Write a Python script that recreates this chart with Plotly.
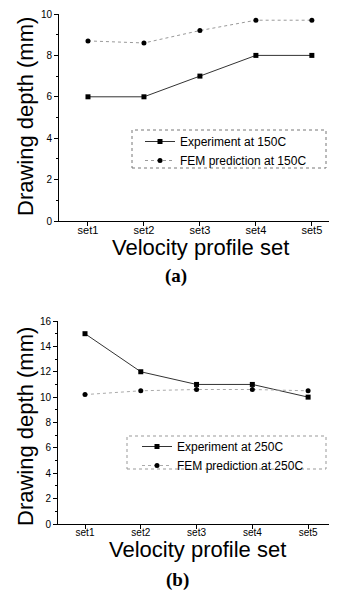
import plotly.graph_objects as go

categories = ["set1", "set2", "set3", "set4", "set5"]
exp_150 = [6, 6, 7, 8, 8]
fem_150 = [8.7, 8.6, 9.2, 9.7, 9.7]
exp_250 = [15, 12, 11, 11, 10]
fem_250 = [10.2, 10.5, 10.6, 10.6, 10.5]

# page body adds an 8px margin; figure is sized to the remaining viewport
OFF = 8
W, H = 337 - OFF, 606 - OFF
def px(x): return (x - OFF) / W
def py(y): return 1 - (y - OFF) / H

FONT = "Liberation Sans, Arial, sans-serif"

fig = go.Figure()

# top panel
fig.add_trace(go.Scatter(x=categories, y=exp_150, name="Experiment at 150C", mode="lines+markers",
                         line=dict(color="#333333", width=1), marker=dict(symbol="square", size=5, color="black"),
                         xaxis="x", yaxis="y", legend="legend"))
fig.add_trace(go.Scatter(x=categories, y=fem_150, name="FEM prediction at 150C", mode="lines+markers",
                         line=dict(color="#999999", width=1, dash="dot"), marker=dict(symbol="circle", size=5, color="black"),
                         xaxis="x", yaxis="y", legend="legend"))
# bottom panel
fig.add_trace(go.Scatter(x=categories, y=exp_250, name="Experiment at 250C", mode="lines+markers",
                         line=dict(color="#333333", width=1), marker=dict(symbol="square", size=5, color="black"),
                         xaxis="x2", yaxis="y2", legend="legend2"))
fig.add_trace(go.Scatter(x=categories, y=fem_250, name="FEM prediction at 250C", mode="lines+markers",
                         line=dict(color="#aaaaaa", width=1, dash="dot"), marker=dict(symbol="circle", size=5, color="black"),
                         xaxis="x2", yaxis="y2", legend="legend2"))

axis_common = dict(showline=True, linecolor="black", linewidth=1, ticks="outside", ticklen=4,
                   tickcolor="black", showgrid=False, zeroline=False, mirror=False, automargin=False)

fig.update_layout(
    width=W, height=H, margin=dict(l=0, r=0, t=0, b=0, autoexpand=False),
    paper_bgcolor="white", plot_bgcolor="white",
    font=dict(family=FONT, color="black"),
    xaxis=dict(domain=[px(59), px(332)], anchor="y", range=[-0.518, 4.36],
               tickfont=dict(size=11), ticklabelstandoff=-5, **axis_common),
    yaxis=dict(domain=[py(221), py(14)], anchor="x", range=[0, 10], tickvals=[0, 2, 4, 6, 8, 10],
               tickfont=dict(size=10), minor=dict(ticks="outside", ticklen=2, tickcolor="black", dtick=1, showgrid=False),
               **axis_common),
    xaxis2=dict(domain=[px(58), px(336)], anchor="y2", range=[-0.484, 4.5],
                tickfont=dict(size=10), ticklabelstandoff=-5, **axis_common),
    yaxis2=dict(domain=[py(524), py(321)], anchor="x2", range=[0, 16], tickvals=[0, 2, 4, 6, 8, 10, 12, 14, 16],
                tickfont=dict(size=10), minor=dict(ticks="outside", ticklen=2, tickcolor="black", dtick=1, showgrid=False),
                **axis_common),
    legend=dict(x=px(140), y=py(127), xanchor="left", yanchor="top", bgcolor="rgba(0,0,0,0)",
                borderwidth=0, font=dict(size=12, family=FONT), itemwidth=30, tracegroupgap=0),
    legend2=dict(x=px(137), y=py(432), xanchor="left", yanchor="top", bgcolor="rgba(0,0,0,0)",
                 borderwidth=0, font=dict(size=12, family=FONT), itemwidth=30, tracegroupgap=0),
    showlegend=True,
)

# legend frames (dotted, as in the scan)
fig.add_shape(type="rect", xref="paper", yref="paper", x0=px(132), x1=px(326), y0=py(168), y1=py(130),
              line=dict(color="#777777", width=1, dash="dot"))
fig.add_shape(type="rect", xref="paper", yref="paper", x0=px(127), x1=px(326), y0=py(469), y1=py(436),
              line=dict(color="#999999", width=1, dash="dot"))

ann = [
    dict(text="Velocity profile set", x=px(200), y=py(247), font=dict(size=22, family=FONT)),
    dict(text="Drawing depth (mm)", x=px(25), y=py(117), textangle=-90, font=dict(size=22, family=FONT)),
    dict(text="<b>(a)</b>", x=px(176), y=py(276), font=dict(size=19, family="Liberation Serif, Times New Roman, serif")),
    dict(text="Velocity profile set", x=px(197), y=py(549), font=dict(size=22, family=FONT)),
    dict(text="Drawing depth (mm)", x=px(25), y=py(427), textangle=-90, font=dict(size=22, family=FONT)),
    dict(text="<b>(b)</b>", x=px(177), y=py(580), font=dict(size=19, family="Liberation Serif, Times New Roman, serif")),
]
for a in ann:
    fig.add_annotation(xref="paper", yref="paper", xanchor="center", yanchor="middle", showarrow=False, **a)

fig.write_html("out.html")
